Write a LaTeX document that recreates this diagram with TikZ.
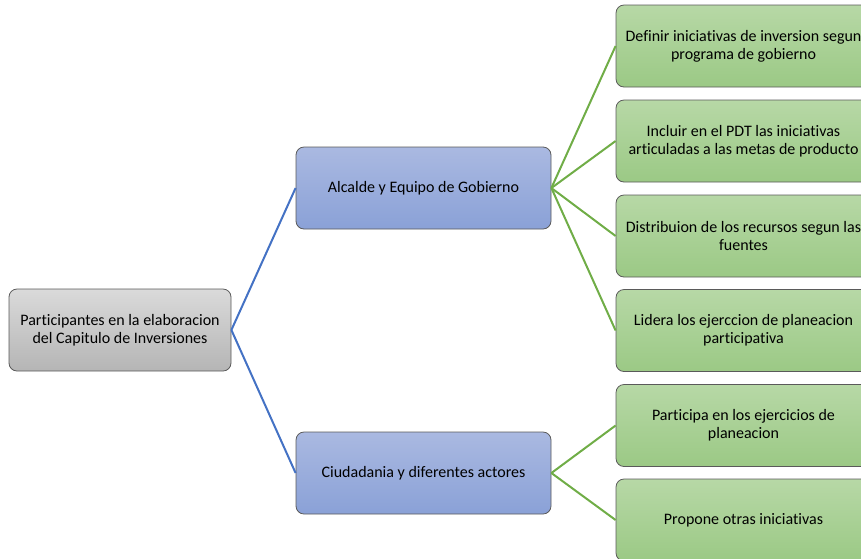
\documentclass[tikz,border=0pt]{standalone}
\usepackage{fontspec}
\setmainfont[Ligatures={NoCommon}]{Carlito}
\definecolor{gtop}{HTML}{DADADA}
\definecolor{gbot}{HTML}{B5B5B5}
\definecolor{btop}{HTML}{AAB9E1}
\definecolor{bbot}{HTML}{8AA1D7}
\definecolor{ntop}{HTML}{B7D8A6}
\definecolor{nbot}{HTML}{9BC985}
\definecolor{edge}{HTML}{5A5A5A}
\definecolor{bline}{HTML}{4472C4}
\definecolor{nline}{HTML}{70AD47}
\begin{document}
\begin{tikzpicture}[x=1pt,y=-1pt,
  box/.style={draw=edge,line width=0.8pt,rounded corners=8pt,align=center,
    font=\fontsize{16}{18}\selectfont,inner sep=0pt},
  rootbox/.style={box,minimum width=222pt,minimum height=82pt,top color=gtop,bottom color=gbot},
  midbox/.style={box,minimum width=255pt,minimum height=82pt,top color=btop,bottom color=bbot},
  leafbox/.style={box,minimum width=255pt,minimum height=82pt,top color=ntop,bottom color=nbot},
  bconn/.style={draw=bline,line width=2pt},
  gconn/.style={draw=nline,line width=2pt}]
\useasboundingbox (0,0) rectangle (861,558);
\clip (0,0) rectangle (861,558);
\node[rootbox] (root) at (120,330) {Participantes en la elaboracion\\del Capitulo de Inversiones};
\node[midbox] (a) at (423.5,188) {Alcalde y Equipo de Gobierno};
\node[midbox] (c) at (423.5,473) {Ciudadania y diferentes actores};
\node[leafbox] (a1) at (743.5,46) {Definir iniciativas de inversion segun\\programa de gobierno};
\node[leafbox] (a2) at (743.5,141) {Incluir en el PDT las iniciativas\\articuladas a las metas de producto};
\node[leafbox] (a3) at (743.5,236) {Distribuion de los recursos segun las\\fuentes};
\node[leafbox] (a4) at (743.5,330.5) {Lidera los ejerccion de planeacion\\participativa};
\node[leafbox] (c1) at (743.5,425.5) {Participa en los ejercicios de\\planeacion};
\node[leafbox] (c2) at (743.5,520) {Propone otras iniciativas};
\draw[bconn] (root.east) -- (a.west);
\draw[bconn] (root.east) -- (c.west);
\foreach \n in {a1,a2,a3,a4} \draw[gconn] (a.east) -- (\n.west);
\foreach \n in {c1,c2} \draw[gconn] (c.east) -- (\n.west);
\end{tikzpicture}
\end{document}
